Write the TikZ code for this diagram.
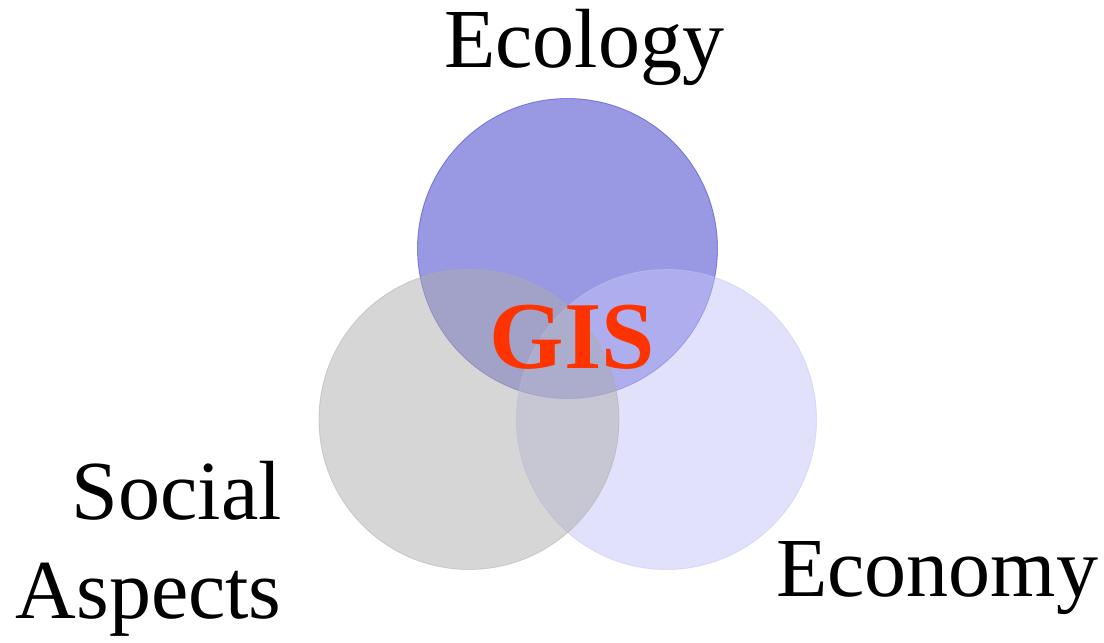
\documentclass[tikz,border=0pt]{standalone}
\usepackage{fontspec}
\setmainfont{Liberation Serif}
\usepackage{xcolor}
\usepackage{tikz}
\definecolor{ecoblue}{HTML}{3333C8}
\definecolor{socgrey}{HTML}{ADADAD}
\definecolor{econlav}{HTML}{C3C3F9}
\definecolor{gisred}{HTML}{FF3300}
\tikzset{
  ring/.style={circle, minimum size=6cm, inner sep=0pt, line width=0.5pt, opacity=0.5},
  lab/.style={text=black, font=\fontsize{47.8}{55.8}\selectfont, inner sep=0pt},
  core/.style={text=gisred, font=\fontsize{54.5}{60}\selectfont\bfseries, inner sep=0pt}
}
\begin{document}
\begin{tikzpicture}
  \useasboundingbox (0,0) rectangle (22.08,12.84);

  % circles
  \node[ring, draw=ecoblue, fill=ecoblue] (ecology) at (11.35,7.87) {};
  \node[ring, draw=econlav, fill=econlav] (economy) at (13.33,4.45) {};
  \node[ring, draw=socgrey, fill=socgrey] (social) at (9.38,4.45) {};

  % labels
  \node[lab, anchor=base] (ecolab) at (11.68,11.48) {Ecology};
  \node[lab, anchor=base] (econlab) at (18.74,0.92) {Economy};
  \node[lab, anchor=base east, align=right] (soclab) at (5.64,0.48) {Social\\Aspects};
  \node[core, anchor=base] (gis) at (11.44,5.48) {GIS};
\end{tikzpicture}
\end{document}
